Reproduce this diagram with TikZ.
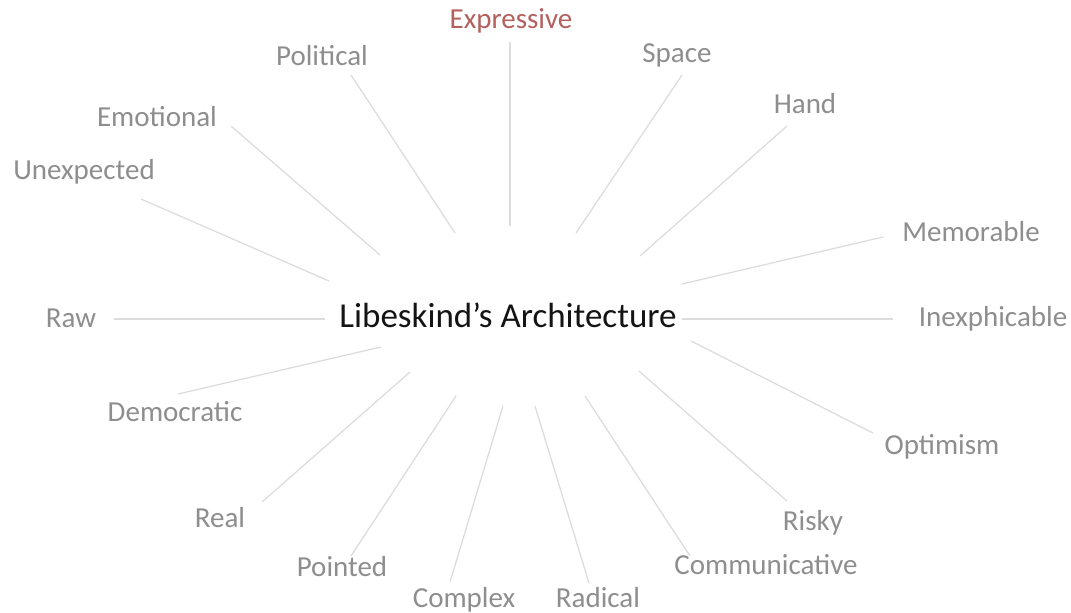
\documentclass[tikz,border=0pt]{standalone}
\usepackage{fontspec}
\setmainfont{Carlito}
\definecolor{labelgrey}{HTML}{8E8E8E}
\definecolor{spokegrey}{HTML}{DCDCDC}
\definecolor{accentred}{HTML}{B3605E}
\definecolor{titleink}{HTML}{141414}
\begin{document}
\begin{tikzpicture}[x=1pt,y=-1pt,
  word/.style={anchor=base,inner sep=0pt,text=labelgrey,font=\fontsize{29}{29}\selectfont},
  accent/.style={word,text=accentred},
  title/.style={anchor=base,inner sep=0pt,text=titleink,font=\fontsize{35}{35}\selectfont},
  spoke/.style={draw=spokegrey,line width=1.25pt}]
\useasboundingbox[fill=white] (0,0) rectangle (1071,613);

% central concept
\node[title] (core) at (508,327) {Libeskind’s Architecture};

% surrounding words
\node[accent] (expressive) at (511,28) {Expressive};
\node[word] (political) at (322,65) {Political};
\node[word] (space) at (677,62) {Space};
\node[word] (hand) at (805,113) {Hand};
\node[word] (emotional) at (157,126) {Emotional};
\node[word] (unexpected) at (84,179) {Unexpected};
\node[word] (memorable) at (971,241) {Memorable};
\node[word] (raw) at (71,327) {Raw};
\node[word] (inexphicable) at (993,326) {Inexphicable};
\node[word] (democratic) at (175,421) {Democratic};
\node[word] (optimism) at (942,454) {Optimism};
\node[word] (real) at (220,527) {Real};
\node[word] (risky) at (813,530) {Risky};
\node[word] (pointed) at (342,576) {Pointed};
\node[word] (communicative) at (766,574) {Communicative};
\node[word] (complex) at (464,607) {Complex};
\node[word] (radical) at (598,607) {Radical};

% spoke ends: outer (near the word) and inner (near the centre)
\coordinate (o-expressive) at (510,42);     \coordinate (i-expressive) at (510,226);
\coordinate (o-political) at (351,75);      \coordinate (i-political) at (455,233);
\coordinate (o-space) at (682,75);          \coordinate (i-space) at (576,233);
\coordinate (o-hand) at (787,126);          \coordinate (i-hand) at (640,256);
\coordinate (o-emotional) at (231,126);     \coordinate (i-emotional) at (380,255);
\coordinate (o-unexpected) at (141,199);    \coordinate (i-unexpected) at (329,281);
\coordinate (o-memorable) at (883,237);     \coordinate (i-memorable) at (682,284);
\coordinate (o-raw) at (114,319);           \coordinate (i-raw) at (325,319);
\coordinate (o-inexphicable) at (893,319);  \coordinate (i-inexphicable) at (682,319);
\coordinate (o-democratic) at (178,394);    \coordinate (i-democratic) at (381,347);
\coordinate (o-optimism) at (873,433);      \coordinate (i-optimism) at (691,341);
\coordinate (o-real) at (262,502);          \coordinate (i-real) at (410,372);
\coordinate (o-risky) at (787,501);         \coordinate (i-risky) at (639,371);
\coordinate (o-pointed) at (351,556);       \coordinate (i-pointed) at (456,396);
\coordinate (o-communicative) at (690,556); \coordinate (i-communicative) at (585,396);
\coordinate (o-complex) at (450,582);       \coordinate (i-complex) at (503,406);
\coordinate (o-radical) at (589,583);       \coordinate (i-radical) at (535,406);

\foreach \w in {expressive,political,space,hand,emotional,unexpected,memorable,raw,
  inexphicable,democratic,optimism,real,risky,pointed,communicative,complex,radical}
  \draw[spoke] (o-\w) -- (i-\w);
\end{tikzpicture}
\end{document}
